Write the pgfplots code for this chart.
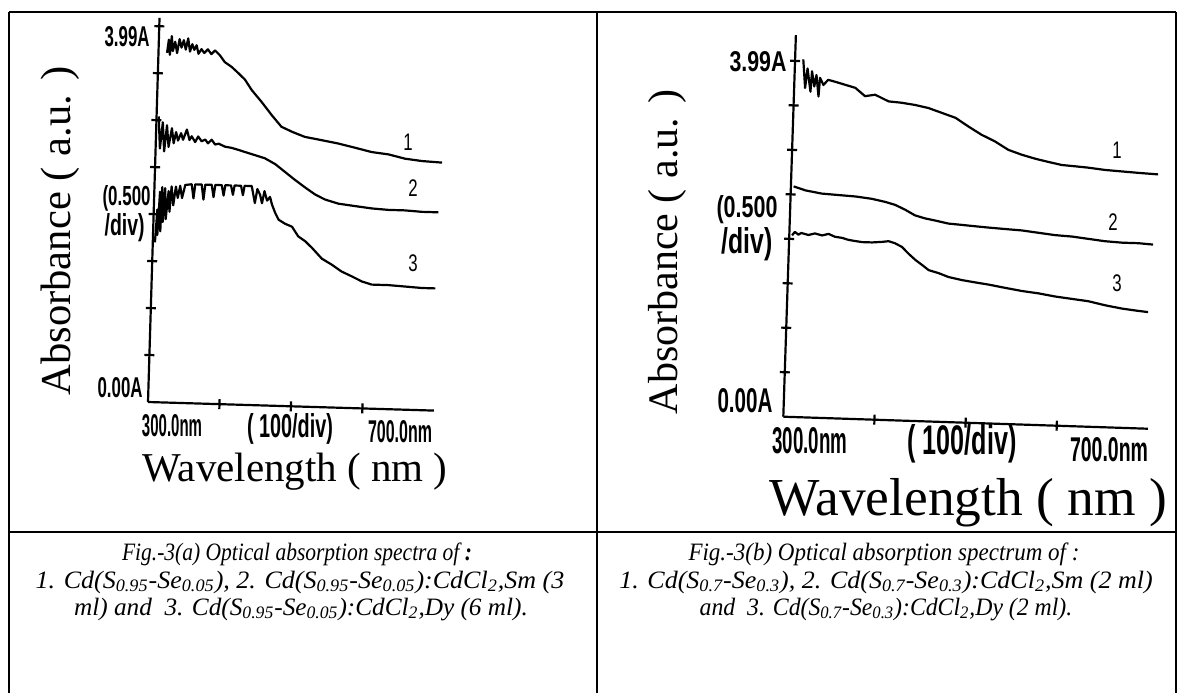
\documentclass[border=0pt]{standalone}
\usepackage{graphicx}
\usepackage{pgfplots}
\pgfplotsset{compat=1.18}
\usepackage{fontspec}
\setmainfont{Liberation Serif}
\newfontfamily\lcdfont{Liberation Sans}
\newcommand\tl[3]{\resizebox{#1pt}{#2pt}{\lcdfont\bfseries #3}}
\newcommand\cn[1]{\scalebox{0.7}[1]{\lcdfont\fontsize{12}{12}\selectfont #1}}
\pgfplotsset{
  scan/.style={scale only axis, axis lines=left, axis line style={-, line width=1.1pt},
    xtick={400,500,600}, ytick={0.5,1,...,4}, xticklabels={}, yticklabels={},
    tick align=center, major tick length=5pt, every tick/.style={black, line width=1.1pt},
    xmin=300, xmax=700, ymin=0, clip=false, anchor=south west},
  spec/.style={black, line width=1.1pt, mark=none, line join=round}
}
\begin{document}
\begin{tikzpicture}
\useasboundingbox (0pt,0pt) rectangle (589pt,346.5pt);
% ---------- left panel ----------
\begin{scope}[transform canvas={rotate around={-1.72:(74pt,145.5pt)}}]
\begin{axis}[scan, at={(74pt,145.5pt)}, width=143pt, height=192.2pt, ymax=4.09]
\addplot[spec] coordinates {(312,3.72) (314,3.86) (316,3.70) (318,3.90) (320,3.74) (323,3.84) (326,3.72) (329,3.87) (332,3.78) (335,3.86) (338,3.76) (341,3.88) (344,3.74) (347,3.82) (350,3.76) (353,3.81) (356,3.72) (360,3.77) (364,3.73) (369,3.77) (374,3.72) (379,3.76) (386,3.71) (393,3.64) (403,3.59) (412,3.53) (422,3.46) (432,3.35) (446,3.23) (461,3.09) (475,2.97) (490,2.92) (508,2.87) (532,2.84) (555,2.81) (579,2.77) (602,2.73) (626,2.71) (649,2.67) (673,2.65) (701,2.64)};
\addplot[spec] coordinates {(303,3.04) (306,2.70) (309,2.98) (312,2.67) (315,2.95) (318,2.72) (322,2.92) (325,2.76) (328,2.88) (331,2.79) (335,2.87) (338,2.80) (343,2.91) (347,2.80) (350,2.84) (355,2.78) (359,2.84) (364,2.79) (369,2.81) (373,2.77) (378,2.81) (383,2.76) (388,2.77) (397,2.74) (406,2.73) (416,2.71) (425,2.69) (439,2.66) (453,2.63) (468,2.57) (482,2.49) (496,2.41) (511,2.33) (525,2.26) (539,2.21) (558,2.17) (581,2.15) (605,2.13) (628,2.12) (651,2.12) (675,2.11) (698,2.11)};
\addplot[spec] coordinates {(303,1.70) (305,2.05) (306,1.78) (308,2.24) (310,1.82) (311,2.29) (313,1.92) (315,2.28) (317,1.95) (320,2.25) (322,2.03) (324,2.30) (327,2.10) (330,2.30) (333,2.18) (336,2.31) (339,2.18) (343,2.32) (352,2.33) (355,2.18) (357,2.33) (366,2.33) (369,2.17) (371,2.33) (380,2.33) (383,2.20) (385,2.33) (394,2.33) (397,2.22) (399,2.33) (407,2.33) (410,2.23) (412,2.33) (421,2.33) (424,2.23) (426,2.33) (436,2.33) (441,2.15) (444,2.30) (448,2.24) (451,2.15) (454,2.28) (458,2.18) (462,2.22) (465,2.14) (470,2.05) (475,1.98) (484,1.94) (494,1.91) (503,1.81) (513,1.76) (523,1.69) (537,1.58) (551,1.52) (565,1.45) (580,1.40) (594,1.35) (608,1.32) (631,1.32) (655,1.31) (678,1.30) (697,1.30)};
\end{axis}
\end{scope}
% ---------- right panel ----------
\begin{scope}[transform canvas={rotate around={-1.89:(391.65pt,138.15pt)}}]
\begin{axis}[scan, at={(391.65pt,138.15pt)}, width=182.4pt, height=190.9pt, ymax=4.29]
\addplot[spec] coordinates {(309,4.02) (312,3.70) (314,3.92) (318,3.66) (319,3.89) (322,3.72) (324,3.85) (327,3.61) (328,3.82) (332,3.74) (337,3.80) (345,3.78) (356,3.75) (367,3.72) (378,3.63) (389,3.65) (404,3.58) (418,3.57) (433,3.55) (448,3.52) (463,3.47) (478,3.42) (492,3.33) (507,3.24) (522,3.17) (537,3.08) (552,3.03) (567,2.99) (581,2.96) (596,2.93) (611,2.92) (625,2.91) (644,2.89) (662,2.88) (680,2.87) (702,2.86)};
\addplot[spec] coordinates {(303,2.59) (316,2.55) (334,2.52) (352,2.51) (371,2.50) (389,2.48) (404,2.45) (415,2.42) (426,2.37) (437,2.31) (448,2.28) (459,2.26) (474,2.23) (489,2.22) (503,2.21) (518,2.20) (536,2.19) (555,2.18) (573,2.16) (591,2.14) (610,2.13) (628,2.11) (646,2.09) (665,2.08) (683,2.08) (699,2.07)};
\addplot[spec] coordinates {(303,2.04) (306,2.08) (310,2.05) (313,2.07) (321,2.05) (328,2.07) (336,2.05) (343,2.07) (350,2.04) (358,2.03) (365,2.01) (372,2.00) (380,1.99) (391,1.99) (402,2.00) (409,2.01) (416,1.99) (424,1.95) (431,1.88) (439,1.81) (446,1.76) (454,1.70) (465,1.67) (476,1.63) (491,1.60) (505,1.58) (520,1.56) (538,1.53) (557,1.50) (575,1.48) (594,1.45) (612,1.43) (630,1.41) (649,1.37) (667,1.34) (685,1.32) (696,1.31)};
\end{axis}
\end{scope}
% ---------- frame, labels, captions (pixel units) ----------
\begin{scope}[x=0.5pt,y=-0.5pt,yshift=346.5pt]
\draw[line width=1pt] (9,12) -- (1176,12);
\draw[line width=1pt] (9,12) -- (9,693);
\draw[line width=1pt] (1176,12) -- (1176,693);
\draw[line width=1pt] (597,12) -- (597,693);
\draw[line width=1pt] (9,532) -- (1176,532);
% left tick texts
\node[anchor=east,inner sep=0] at (150,37) {\tl{22.5}{10}{3.99A}};
\node[anchor=east,inner sep=0] at (151,198) {\tl{24}{10}{(0.500}};
\node[anchor=east,inner sep=0] at (145,228) {\tl{20}{11}{/div)}};
\node[anchor=east,inner sep=0] at (143,388) {\tl{22.5}{10}{0.00A}};
\node[inner sep=0] at (172,426) {\tl{30}{11}{300.0nm}};
\node[inner sep=0] at (290,429) {\tl{43}{12}{( 100/div)}};
\node[inner sep=0] at (400,432) {\tl{32}{11}{700.0nm}};
% right tick texts
\node[inner sep=0] at (758,62) {\tl{28.5}{10}{3.99A}};
\node[inner sep=0] at (747,210) {\tl{30.5}{11}{(0.500}};
\node[inner sep=0] at (747,244) {\tl{25.5}{13}{/div)}};
\node[inner sep=0] at (745,401) {\tl{27.5}{12}{0.00A}};
\node[inner sep=0] at (810,441) {\tl{37.5}{13}{300.0nm}};
\node[inner sep=0] at (962,444) {\tl{54.5}{15}{( 100/div)}};
\node[inner sep=0] at (1109,450) {\tl{39}{12}{700.0nm}};
% curve numbers
\node at (408,142) {\cn{1}};
\node at (413,188) {\cn{2}};
\node at (413,263) {\cn{3}};
\node at (1117,150) {\cn{1}};
\node at (1113,222) {\cn{2}};
\node at (1117,283) {\cn{3}};
% axis titles
\node[rotate=90,inner sep=0] at (60,231) {\fontsize{21.3}{24}\selectfont Absorbance ( a.u. )};
\node[rotate=90,inner sep=0] at (667,252) {\fontsize{21}{24}\selectfont Absorbance ( a.u. )};
\node[anchor=base,inner sep=0] at (295,481) {\fontsize{20.5}{24}\selectfont Wavelength ( nm )};
\node[anchor=base,inner sep=0] at (968,515) {\fontsize{26.7}{30}\selectfont Wavelength ( nm )};
% captions
\begin{scope}[every node/.style={anchor=base,inner sep=0,font=\fontsize{12.5}{14}\selectfont\itshape}]
\node at (297,560) {\scalebox{0.86}[1]{Fig.-3(a) Optical absorption spectra of \textbf{:}}};
\node at (300,588) {\scalebox{1.04}[1]{1. Cd(S\textsubscript{0.95}-Se\textsubscript{0.05}), 2. Cd(S\textsubscript{0.95}-Se\textsubscript{0.05}):CdCl\textsubscript{2},Sm (3}};
\node at (301,615) {\scalebox{1.01}[1]{ml) and~~3. Cd(S\textsubscript{0.95}-Se\textsubscript{0.05}):CdCl\textsubscript{2},Dy (6 ml).}};
\node at (884,560) {\scalebox{0.92}[1]{Fig.-3(b) Optical absorption spectrum of :}};
\node at (886,588) {\scalebox{1.04}[1]{1. Cd(S\textsubscript{0.7}-Se\textsubscript{0.3}), 2. Cd(S\textsubscript{0.7}-Se\textsubscript{0.3}):CdCl\textsubscript{2},Sm (2 ml)}};
\node at (886,615) {\scalebox{0.95}[1]{and~~3. Cd(S\textsubscript{0.7}-Se\textsubscript{0.3}):CdCl\textsubscript{2},Dy (2 ml).}};
\end{scope}
\end{scope}
\end{tikzpicture}
\end{document}
